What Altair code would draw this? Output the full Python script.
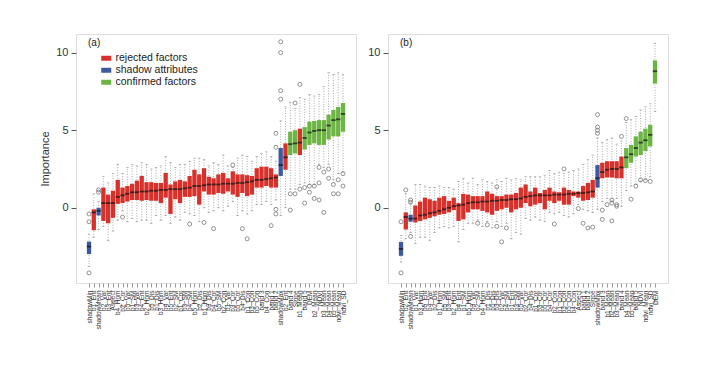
import altair as alt
import pandas as pd

# ---------------- data: panel (a) ----------------
names_a = [
    "shadowMin", "b1_Ent", "shadowMean", "b2_Var", "b3_Ent", "Aspect", "b4_Hom", "b2_Cor", "b5_Var", "b1_SM",
    "b3_Var", "b4_Ent", "b2_Hom", "b5_Dis", "b1_Dis", "b3_Hom", "b4_Var", "b5_Ent", "b2_SM", "b1_Cor",
    "b3_SM", "b4_SM", "b5_Hom", "b2_Dis", "b1_Hom", "b3_Dis", "b4_Cor", "b5_SM", "b2_Con", "b1_Var",
    "b3_Cor", "b5_Cor", "b4_Dis", "b1_Con", "b3_Con", "b5_Con", "band 3", "b4_Con", "band 1", "band 2",
    "shadowMax", "b2_Ent", "band 4", "Slope", "b1_Mean", "band 5", "DEM", "b2_Mean", "NDVI", "b3_Mean",
    "b4_Mean", "b5_Mean", "ndvi_Mean", "ndvi_SD",
]
status_a = list("SRSRRRRRRRRRRRRRRRRRRRRRRRRRRRRRRRRRRRRRSRCCRCCCCCCCCC")
q1_a = [-2.99, -1.45, -0.5, -0.85, -1.0, -0.65, 0.25, 0.3, 0.4, 0.5,
        0.5, 0.45, 0.5, 0.45, 0.45, 0.3, 0.65, -0.4, 0.55, 0.3,
        0.7, 0.7, 0.75, 0.2, 1.05, 0.85, 0.85, 0.95, 0.9, 1.05,
        0.85, 0.7, 0.95, 0.75, 0.85, 1.3, 1.3, 1.4, 1.3, 1.3,
        2.05, 2.45, 3.4, 3.5, 3.4, 3.75, 4.05, 4.15, 4.05, 4.05,
        4.4, 4.6, 4.6, 4.9]
med_a = [-2.5, -0.3, -0.2, 0.3, 0.3, 0.3, 0.7, 0.8, 0.9, 1.0,
         1.0, 1.05, 1.05, 1.1, 1.1, 1.15, 1.15, 1.2, 1.2, 1.2,
         1.25, 1.3, 1.4, 1.4, 1.45, 1.5, 1.5, 1.5, 1.55, 1.55,
         1.55, 1.6, 1.6, 1.65, 1.7, 1.8, 1.8, 1.85, 1.9, 1.95,
         2.75, 3.25, 4.1, 4.15, 4.2, 4.5, 4.85, 4.95, 5.0, 5.0,
         5.3, 5.65, 5.7, 6.05]
q3_a = [-2.18, -0.1, 0.0, 1.3, 0.85, 1.1, 1.8, 1.3, 1.4, 1.55,
        1.75, 2.05, 1.65, 1.65, 1.6, 1.6, 2.25, 1.5, 1.7, 1.8,
        1.7, 2.05, 2.45, 2.15, 2.55, 2.0, 1.9, 2.15, 2.25, 1.9,
        2.35, 2.15, 2.15, 2.1, 2.05, 2.55, 2.65, 2.65, 2.55, 2.15,
        3.85, 4.15, 4.9, 5.0, 5.1, 5.2, 5.55, 5.6, 5.65, 5.65,
        6.0, 6.3, 6.5, 6.75]
lo_a = [-3.8, -1.9, -1.4, -1.2, -2.1, -1.5, -0.8, -0.2, -0.9, -0.7,
        -0.9, -0.8, -0.8, -1.0, -0.5, -0.8, -0.5, -1.0, -0.6, -0.8,
        -0.3, -0.4, -0.5, -0.9, 0.0, -0.3, -0.2, 0.0, -0.2, 0.1,
        0.4, -0.5, -0.2, -0.4, -0.2, 0.2, 0.2, 0.4, 0.2, 0.5,
        -0.5, 0.0, 1.2, 1.2, 1.5, 1.6, 1.5, 1.5, 2.8, 2.6,
        2.8, 1.8, 2.2, 2.3]
hi_a = [-1.7, 0.9, 0.4, 2.0, 1.6, 2.2, 2.8, 2.2, 2.6, 2.8,
        2.7, 2.9, 2.8, 2.5, 2.6, 2.7, 3.3, 2.9, 2.6, 2.8,
        2.8, 3.0, 3.2, 3.2, 3.1, 2.7, 2.9, 2.8, 3.4, 2.7,
        2.6, 3.2, 3.4, 3.3, 3.0, 3.3, 3.5, 3.6, 3.3, 3.0,
        5.6, 6.5, 6.8, 6.4, 7.1, 7.0, 7.3, 7.2, 7.3, 7.8,
        8.7, 8.6, 8.7, 8.6]
out_idx_a = [0, 0, 0, 2, 2, 7, 21, 24, 26, 30, 32, 33, 38, 39, 39, 39, 39,
             40, 40, 40, 40, 42, 42, 43, 43, 44, 44, 45, 45, 46, 46, 47, 47,
             48, 48, 48, 49, 49, 50, 50, 51, 51, 52, 52, 53, 53]
out_val_a = [-4.2, -0.4, -0.9, 1.0, 1.15, -0.6, -1.05, -0.95, -1.35, 2.75, -1.35, -2.0, -1.15, 4.8, 3.9, -0.1, -0.4,
             10.7, 10.0, 7.55, 7.0, -0.15, 0.9, 6.75, 0.9, 7.95, 1.2, 0.3, 1.3, 1.4, 1.0, 1.4, 0.6,
             2.6, 1.6, 0.5, 2.3, -0.3, 2.5, 1.9, 1.5, 0.9, 1.8, 0.9, 2.2, 1.4]

# ---------------- data: panel (b) ----------------
names_b = [
    "shadowMin", "b2_Ent", "shadowMean", "b1_Var", "b3_Hom", "b5_Ent", "b4_Var", "b2_Dis", "b1_Hom", "b5_SM",
    "b3_Ent", "b2_Hom", "b4_Ent", "b1_SM", "b5_Hom", "b3_Var", "b2_SM", "b4_Hom", "b1_Dis", "b5_Dis",
    "b3_Dis", "b2_Var", "b4_SM", "b1_Ent", "b3_SM", "b5_Var", "b2_Cor", "b4_Dis", "b1_Cor", "b3_Cor",
    "b5_Cor", "b4_Cor", "b2_Con", "b1_Con", "b3_Con", "b5_Con", "b4_Con", "Aspect", "band 1", "band 2",
    "Slope", "shadowMax", "band 3", "b1_Mean", "b2_Mean", "b3_Mean", "band 4", "b4_Mean", "b5_Mean", "band 5",
    "NDVI", "ndvi_Mean", "ndvi_SD", "DEM",
]
status_b = list("SRSRRRRRRRRRRRRRRRRRRRRRRRRRRRRRRRRRRRRRRSRRRRRCCCCCCC")
q1_b = [-3.1, -1.4, -0.9, -0.95, -0.85, -0.75, -0.65, -0.55, -0.45, -0.4,
        -0.3, -0.15, -0.85, -0.75, -0.3, -0.1, -0.1, -0.2, -0.3, -0.45,
        -0.2, -0.1, 0.0, -0.3, -0.1, 0.0, 0.3, 0.1, 0.2, 0.3,
        -0.1, 0.45, 0.3, 0.45, 0.2, 0.2, 0.75, 0.65, 0.45, 0.5,
        0.65, 1.3, 1.9, 1.95, 1.95, 1.9, 1.9, 2.55, 2.9, 3.3,
        3.4, 3.65, 3.95, 8.0]
med_b = [-2.65, -0.6, -0.7, -0.7, -0.5, -0.45, -0.35, -0.3, -0.2, -0.1,
         0.0, 0.1, 0.15, 0.2, 0.3, 0.35, 0.35, 0.4, 0.4, 0.45,
         0.45, 0.5, 0.5, 0.55, 0.55, 0.6, 0.7, 0.75, 0.8, 0.8,
         0.8, 0.8, 0.85, 0.85, 0.85, 0.9, 0.9, 0.95, 0.95, 1.0,
         1.05, 1.9, 2.3, 2.45, 2.5, 2.5, 2.6, 3.25, 3.45, 3.85,
         4.2, 4.35, 4.7, 8.8]
q3_b = [-2.2, -0.3, -0.45, 0.15, 0.4, 0.65, 0.55, 0.45, 0.65, 0.75,
        0.45, 0.65, 0.3, 0.9, 0.85, 0.75, 0.75, 0.75, 1.05, 0.9,
        0.75, 0.75, 0.85, 0.85, 0.95, 1.3, 1.5, 1.05, 1.3, 0.95,
        1.15, 1.3, 1.05, 1.0, 1.3, 1.15, 1.05, 1.05, 1.4, 1.6,
        1.8, 2.75, 2.9, 3.0, 3.0, 3.0, 3.3, 3.85, 4.05, 4.6,
        4.9, 5.1, 5.35, 9.5]
lo_b = [-3.5, -2.0, -1.6, -2.3, -1.9, -1.9, -2.1, -1.6, -1.3, -1.2,
        -1.3, -1.2, -2.2, -1.4, -1.0, -1.0, -0.8, -1.2, -0.9, -1.3,
        -0.9, -1.2, -1.0, -2.0, -1.6, -1.7, -0.7, -0.8, -0.6, -0.8,
        -0.9, -0.3, -0.4, -0.3, -0.5, -0.6, -0.4, 0.2, -0.1, -0.2,
        -0.3, -0.1, 0.4, 0.6, 0.4, 0.6, 0.1, 1.1, 1.4, 1.5,
        1.7, 1.8, 2.0, 6.2]
hi_b = [-1.8, 0.9, 0.3, 1.5, 1.5, 1.4, 1.3, 1.3, 1.4, 1.3,
        1.3, 1.2, 1.7, 1.9, 1.6, 1.9, 1.5, 1.8, 1.7, 1.6,
        1.8, 1.7, 1.9, 1.8, 1.9, 1.8, 2.0, 2.0, 2.0, 2.0,
        2.1, 2.4, 2.2, 2.3, 2.2, 2.3, 2.4, 2.5, 2.8, 3.1,
        3.4, 4.5, 4.2, 4.4, 4.5, 4.1, 4.3, 5.5, 5.7, 5.9,
        6.3, 6.5, 6.7, 10.6]
out_idx_b = [0, 0, 1, 2, 2, 2, 16, 18, 20, 20, 21, 22, 32, 34, 37, 38, 39, 40,
             41, 41, 41, 41, 42, 42, 43, 44, 44, 44, 45, 45, 46, 47, 48, 49, 50, 51, 52]
out_val_b = [-4.2, -0.9, 1.15, 0.5, 0.35, -1.85, -1.0, -1.1, -1.2, 1.35, -2.2, -1.3, -1.05, 2.5, -0.05, -1.0, -1.3, -1.25,
             6.0, 5.2, 5.0, 4.8, -0.15, -0.75, 0.2, 0.3, 0.5, -0.85, 0.2, 0.1, 4.6, 5.75, 0.55, 1.4, 1.8, 1.75, 1.7]

STATUS = {"R": "rejected factors", "S": "shadow attributes", "C": "confirmed factors"}
CAT_ORDER = ["rejected factors", "shadow attributes", "confirmed factors"]
CAT_COLORS = ["#d8312b", "#3d5aa0", "#6cb444"]
FONT = "Liberation Sans"


def panel(names, status, q1, med, q3, lo, hi, out_idx, out_val, tag, first):
    df = pd.DataFrame({
        "name": names, "status": [STATUS[s] for s in status],
        "q1": q1, "med": med, "q3": q3, "lo": lo, "hi": hi,
    })
    odf = pd.DataFrame({"name": [names[i] for i in out_idx], "val": out_val})

    xs = alt.Scale(type="point", domain=names, range=[13, 267], padding=0)
    xaxis = alt.Axis(
        labelAngle=270, labelFontSize=6.5, labelColor="#333", labelFont=FONT,
        tickSize=4, tickColor="#999", domain=False, labelOverlap=False,
        labelPadding=3, labelLimit=80, labelBound=False, title=None)
    ys = alt.Scale(domain=[-4.85, 11.2], nice=False, zero=False)
    yaxis = alt.Axis(
        values=[0, 5, 10], grid=False, domain=False, tickSize=5, tickColor="#555",
        labelFontSize=11, labelColor="#333", labelPadding=3, labelFont=FONT,
        title="Importance" if first else None, titleFontSize=11, titleFontWeight="normal",
        titleColor="#333", titlePadding=5, titleFont=FONT)

    def X():
        return alt.X("name:N", scale=xs, axis=xaxis)

    def Y(f):
        return alt.Y(f, scale=ys, axis=yaxis)

    base = alt.Chart(df)
    whisk = base.mark_rule(color="#a0a0a0", strokeDash=[1, 1.6], strokeWidth=0.9).encode(
        x=X(), y=Y("lo:Q"), y2="hi:Q")
    cap_lo = base.mark_tick(color="#888", size=2.5, thickness=0.8).encode(x=X(), y=Y("lo:Q"))
    cap_hi = base.mark_tick(color="#888", size=2.5, thickness=0.8).encode(x=X(), y=Y("hi:Q"))
    legend = alt.Legend(
        title=None, orient="none", legendX=25, legendY=19, labelFontSize=10.5, labelFont=FONT,
        labelColor="#222", symbolType="M-1,-0.5H1V0.5H-1Z", symbolSize=100,
        symbolStrokeWidth=0, rowPadding=1, labelOffset=4) if first else None
    box = base.mark_bar(size=4.3).encode(
        x=X(), y=Y("q1:Q"), y2="q3:Q",
        color=alt.Color("status:N", scale=alt.Scale(domain=CAT_ORDER, range=CAT_COLORS), legend=legend))
    median = base.mark_tick(color="#111", size=4.3, thickness=1.8).encode(x=X(), y=Y("med:Q"))
    outl = alt.Chart(odf).mark_point(shape="circle", filled=False, color="#777", size=16,
                                      strokeWidth=0.8, opacity=1).encode(x=X(), y=Y("val:Q"))
    label = alt.Chart(pd.DataFrame({"t": [tag]})).mark_text(
        align="left", baseline="middle", fontSize=10, font=FONT, color="#222").encode(
        x=alt.value(12), y=alt.value(9), text="t:N")
    return alt.layer(whisk, cap_lo, cap_hi, box, median, outl, label).properties(width=280, height=249)


pa = panel(names_a, status_a, q1_a, med_a, q3_a, lo_a, hi_a, out_idx_a, out_val_a, "(a)", True)
pb = panel(names_b, status_b, q1_b, med_b, q3_b, lo_b, hi_b, out_idx_b, out_val_b, "(b)", False)

chart = alt.hconcat(pa, pb, spacing=10).resolve_scale(color="independent").properties(
    padding={"left": 31, "top": 25, "right": 5, "bottom": 5}
).configure_view(stroke="#b4b4b4", strokeWidth=1.2, fill="#fdfdfd").configure(background="white")

chart.save("out.html", embed_options={"renderer": "svg", "actions": False})
